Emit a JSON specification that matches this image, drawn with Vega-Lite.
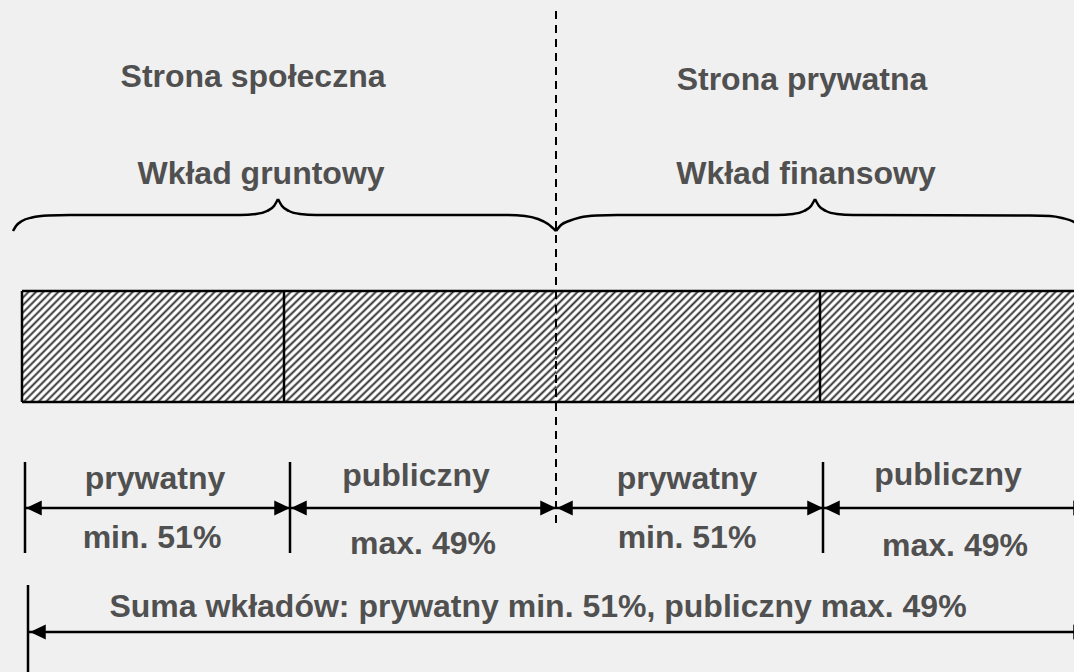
{
 "$schema": "https://vega.github.io/schema/vega-lite/v6.json",
 "width": 1074, "height": 672, "autosize": {"type": "none"}, "padding": 0,
 "background": "#f0f0f0",
 "config": {"view": {"stroke": null}},
 "datasets": {
  "rects": [{"a": 22, "b": 284, "top": 291, "bottom": 402}, {"a": 284, "b": 556, "top": 291, "bottom": 402}, {"a": 556, "b": 820, "top": 291, "bottom": 402}, {"a": 820, "b": 1080, "top": 291, "bottom": 402}],
  "rules": [
   {"x1": 22, "y1": 291, "x2": 1080, "y2": 291},
   {"x1": 22, "y1": 402, "x2": 1080, "y2": 402},
   {"x1": 22, "y1": 291, "x2": 22, "y2": 402},
   {"x1": 284, "y1": 291, "x2": 284, "y2": 402},
   {"x1": 820, "y1": 291, "x2": 820, "y2": 402},
   {"x1": 25, "y1": 462, "x2": 25, "y2": 553},
   {"x1": 290, "y1": 462, "x2": 290, "y2": 553},
   {"x1": 823, "y1": 462, "x2": 823, "y2": 553},
   {"x1": 25, "y1": 508, "x2": 1080, "y2": 508},
   {"x1": 28, "y1": 585, "x2": 28, "y2": 672},
   {"x1": 28, "y1": 632, "x2": 1080, "y2": 632}
  ],
  "dash": [{"x1": 556, "y1": 11, "x2": 556, "y2": 523}],
  "brace": [
   {"seg": "A", "x": 13, "y": 231}, {"seg": "A", "x": 16, "y": 226}, {"seg": "A", "x": 22, "y": 221}, {"seg": "A", "x": 32, "y": 217.5}, {"seg": "A", "x": 48, "y": 215.5}, {"seg": "A", "x": 70, "y": 215}, {"seg": "A", "x": 240, "y": 215}, {"seg": "A", "x": 256, "y": 214}, {"seg": "A", "x": 267, "y": 211}, {"seg": "A", "x": 274, "y": 206}, {"seg": "A", "x": 278, "y": 199},
   {"seg": "B", "x": 278, "y": 199}, {"seg": "B", "x": 282, "y": 206}, {"seg": "B", "x": 289, "y": 211}, {"seg": "B", "x": 300, "y": 214}, {"seg": "B", "x": 316, "y": 215}, {"seg": "B", "x": 505, "y": 215}, {"seg": "B", "x": 525, "y": 216}, {"seg": "B", "x": 538, "y": 219}, {"seg": "B", "x": 548, "y": 224}, {"seg": "B", "x": 556, "y": 231},
   {"seg": "C", "x": 556, "y": 231}, {"seg": "C", "x": 561, "y": 225}, {"seg": "C", "x": 569, "y": 221}, {"seg": "C", "x": 580, "y": 217.5}, {"seg": "C", "x": 597, "y": 215.5}, {"seg": "C", "x": 617, "y": 215}, {"seg": "C", "x": 777, "y": 215}, {"seg": "C", "x": 793, "y": 214}, {"seg": "C", "x": 804, "y": 211}, {"seg": "C", "x": 811, "y": 206}, {"seg": "C", "x": 815, "y": 199},
   {"seg": "D", "x": 815, "y": 199}, {"seg": "D", "x": 819, "y": 206}, {"seg": "D", "x": 826, "y": 211}, {"seg": "D", "x": 837, "y": 214}, {"seg": "D", "x": 853, "y": 215}, {"seg": "D", "x": 1030, "y": 215.5}, {"seg": "D", "x": 1050, "y": 216}, {"seg": "D", "x": 1062, "y": 218}, {"seg": "D", "x": 1074, "y": 222}, {"seg": "D", "x": 1082, "y": 231}
  ],
  "arrowsR": [{"x": 290, "y": 508}, {"x": 556, "y": 508}, {"x": 823, "y": 508}, {"x": 1089, "y": 508}, {"x": 1089, "y": 632}],
  "arrowsL": [{"x": 26, "y": 508}, {"x": 291, "y": 508}, {"x": 557, "y": 508}, {"x": 824, "y": 508}, {"x": 30, "y": 632}],
  "texts": [
   {"x": 253, "y": 87, "t": "Strona społeczna"},
   {"x": 802, "y": 90, "t": "Strona prywatna"},
   {"x": 261, "y": 184, "t": "Wkład gruntowy"},
   {"x": 806, "y": 184, "t": "Wkład finansowy"},
   {"x": 155, "y": 489, "t": "prywatny"},
   {"x": 152, "y": 548, "t": "min. 51%"},
   {"x": 416, "y": 486, "t": "publiczny"},
   {"x": 423, "y": 554, "t": "max. 49%"},
   {"x": 687, "y": 489, "t": "prywatny"},
   {"x": 687, "y": 548, "t": "min. 51%"},
   {"x": 948, "y": 485, "t": "publiczny"},
   {"x": 955, "y": 556, "t": "max. 49%"},
   {"x": 538, "y": 617, "t": "Suma wkładów: prywatny min. 51%, publiczny max. 49%"}
  ]
 },
 "layer": [
  {
   "data": {"name": "rects"},
   "mark": {"type": "rect", "stroke": null, "fill": {"gradient": "linear", "x1": 0, "y1": 0, "x2": 1.207, "y2": 0.5075, "stops": [
    {"offset": 0, "color": "#2a2a2a"}, {"offset": 0.007, "color": "#fff"}, {"offset": 0.013, "color": "#fff"},
    {"offset": 0.02, "color": "#2a2a2a"}, {"offset": 0.027, "color": "#fff"}, {"offset": 0.033, "color": "#fff"},
    {"offset": 0.04, "color": "#2a2a2a"}, {"offset": 0.047, "color": "#fff"}, {"offset": 0.053, "color": "#fff"},
    {"offset": 0.06, "color": "#2a2a2a"}, {"offset": 0.067, "color": "#fff"}, {"offset": 0.073, "color": "#fff"},
    {"offset": 0.08, "color": "#2a2a2a"}, {"offset": 0.087, "color": "#fff"}, {"offset": 0.093, "color": "#fff"},
    {"offset": 0.1, "color": "#2a2a2a"}, {"offset": 0.107, "color": "#fff"}, {"offset": 0.113, "color": "#fff"},
    {"offset": 0.12, "color": "#2a2a2a"}, {"offset": 0.127, "color": "#fff"}, {"offset": 0.133, "color": "#fff"},
    {"offset": 0.14, "color": "#2a2a2a"}, {"offset": 0.147, "color": "#fff"}, {"offset": 0.153, "color": "#fff"},
    {"offset": 0.16, "color": "#2a2a2a"}, {"offset": 0.167, "color": "#fff"}, {"offset": 0.173, "color": "#fff"},
    {"offset": 0.18, "color": "#2a2a2a"}, {"offset": 0.187, "color": "#fff"}, {"offset": 0.193, "color": "#fff"},
    {"offset": 0.2, "color": "#2a2a2a"}, {"offset": 0.207, "color": "#fff"}, {"offset": 0.213, "color": "#fff"},
    {"offset": 0.22, "color": "#2a2a2a"}, {"offset": 0.227, "color": "#fff"}, {"offset": 0.233, "color": "#fff"},
    {"offset": 0.24, "color": "#2a2a2a"}, {"offset": 0.247, "color": "#fff"}, {"offset": 0.253, "color": "#fff"},
    {"offset": 0.26, "color": "#2a2a2a"}, {"offset": 0.267, "color": "#fff"}, {"offset": 0.273, "color": "#fff"},
    {"offset": 0.28, "color": "#2a2a2a"}, {"offset": 0.287, "color": "#fff"}, {"offset": 0.293, "color": "#fff"},
    {"offset": 0.3, "color": "#2a2a2a"}, {"offset": 0.307, "color": "#fff"}, {"offset": 0.313, "color": "#fff"},
    {"offset": 0.32, "color": "#2a2a2a"}, {"offset": 0.327, "color": "#fff"}, {"offset": 0.333, "color": "#fff"},
    {"offset": 0.34, "color": "#2a2a2a"}, {"offset": 0.347, "color": "#fff"}, {"offset": 0.353, "color": "#fff"},
    {"offset": 0.36, "color": "#2a2a2a"}, {"offset": 0.367, "color": "#fff"}, {"offset": 0.373, "color": "#fff"},
    {"offset": 0.38, "color": "#2a2a2a"}, {"offset": 0.387, "color": "#fff"}, {"offset": 0.393, "color": "#fff"},
    {"offset": 0.4, "color": "#2a2a2a"}, {"offset": 0.407, "color": "#fff"}, {"offset": 0.413, "color": "#fff"},
    {"offset": 0.42, "color": "#2a2a2a"}, {"offset": 0.427, "color": "#fff"}, {"offset": 0.433, "color": "#fff"},
    {"offset": 0.44, "color": "#2a2a2a"}, {"offset": 0.447, "color": "#fff"}, {"offset": 0.453, "color": "#fff"},
    {"offset": 0.46, "color": "#2a2a2a"}, {"offset": 0.467, "color": "#fff"}, {"offset": 0.473, "color": "#fff"},
    {"offset": 0.48, "color": "#2a2a2a"}, {"offset": 0.487, "color": "#fff"}, {"offset": 0.493, "color": "#fff"},
    {"offset": 0.5, "color": "#2a2a2a"}, {"offset": 0.507, "color": "#fff"}, {"offset": 0.513, "color": "#fff"},
    {"offset": 0.52, "color": "#2a2a2a"}, {"offset": 0.527, "color": "#fff"}, {"offset": 0.533, "color": "#fff"},
    {"offset": 0.54, "color": "#2a2a2a"}, {"offset": 0.547, "color": "#fff"}, {"offset": 0.553, "color": "#fff"},
    {"offset": 0.56, "color": "#2a2a2a"}, {"offset": 0.567, "color": "#fff"}, {"offset": 0.573, "color": "#fff"},
    {"offset": 0.58, "color": "#2a2a2a"}, {"offset": 0.587, "color": "#fff"}, {"offset": 0.593, "color": "#fff"},
    {"offset": 0.6, "color": "#2a2a2a"}, {"offset": 0.607, "color": "#fff"}, {"offset": 0.613, "color": "#fff"},
    {"offset": 0.62, "color": "#2a2a2a"}, {"offset": 0.627, "color": "#fff"}, {"offset": 0.633, "color": "#fff"},
    {"offset": 0.64, "color": "#2a2a2a"}, {"offset": 0.647, "color": "#fff"}, {"offset": 0.653, "color": "#fff"},
    {"offset": 0.66, "color": "#2a2a2a"}, {"offset": 0.667, "color": "#fff"}, {"offset": 0.673, "color": "#fff"},
    {"offset": 0.68, "color": "#2a2a2a"}, {"offset": 0.687, "color": "#fff"}, {"offset": 0.693, "color": "#fff"},
    {"offset": 0.7, "color": "#2a2a2a"}, {"offset": 0.707, "color": "#fff"}, {"offset": 0.713, "color": "#fff"},
    {"offset": 0.72, "color": "#2a2a2a"}, {"offset": 0.727, "color": "#fff"}, {"offset": 0.733, "color": "#fff"},
    {"offset": 0.74, "color": "#2a2a2a"}, {"offset": 0.747, "color": "#fff"}, {"offset": 0.753, "color": "#fff"},
    {"offset": 0.76, "color": "#2a2a2a"}, {"offset": 0.767, "color": "#fff"}, {"offset": 0.773, "color": "#fff"},
    {"offset": 0.78, "color": "#2a2a2a"}, {"offset": 0.787, "color": "#fff"}, {"offset": 0.793, "color": "#fff"},
    {"offset": 0.8, "color": "#2a2a2a"}, {"offset": 0.807, "color": "#fff"}, {"offset": 0.813, "color": "#fff"},
    {"offset": 0.82, "color": "#2a2a2a"}, {"offset": 0.827, "color": "#fff"}, {"offset": 0.833, "color": "#fff"},
    {"offset": 0.84, "color": "#2a2a2a"}, {"offset": 0.847, "color": "#fff"}, {"offset": 0.853, "color": "#fff"},
    {"offset": 0.86, "color": "#2a2a2a"}, {"offset": 0.867, "color": "#fff"}, {"offset": 0.873, "color": "#fff"},
    {"offset": 0.88, "color": "#2a2a2a"}, {"offset": 0.887, "color": "#fff"}, {"offset": 0.893, "color": "#fff"},
    {"offset": 0.9, "color": "#2a2a2a"}, {"offset": 0.907, "color": "#fff"}, {"offset": 0.913, "color": "#fff"},
    {"offset": 0.92, "color": "#2a2a2a"}, {"offset": 0.927, "color": "#fff"}, {"offset": 0.933, "color": "#fff"},
    {"offset": 0.94, "color": "#2a2a2a"}, {"offset": 0.947, "color": "#fff"}, {"offset": 0.953, "color": "#fff"},
    {"offset": 0.96, "color": "#2a2a2a"}, {"offset": 0.967, "color": "#fff"}, {"offset": 0.973, "color": "#fff"},
    {"offset": 0.98, "color": "#2a2a2a"}, {"offset": 0.987, "color": "#fff"}, {"offset": 0.993, "color": "#fff"},
    {"offset": 1, "color": "#2a2a2a"}
   ]}},
   "encoding": {
    "x": {"field": "a", "type": "quantitative", "scale": {"domain": [0, 1074], "nice": false, "zero": false}, "axis": null},
    "x2": {"field": "b"},
    "y": {"field": "top", "type": "quantitative", "scale": {"domain": [0, 672], "reverse": true, "nice": false, "zero": false}, "axis": null},
    "y2": {"field": "bottom"}
   }
  },
  {
   "data": {"name": "rules"},
   "mark": {"type": "rule", "color": "#000", "strokeWidth": 2.5},
   "encoding": {
    "x": {"field": "x1", "type": "quantitative", "scale": {"domain": [0, 1074], "nice": false, "zero": false}, "axis": null},
    "x2": {"field": "x2"},
    "y": {"field": "y1", "type": "quantitative", "scale": {"domain": [0, 672], "reverse": true, "nice": false, "zero": false}, "axis": null},
    "y2": {"field": "y2"}
   }
  },
  {
   "data": {"name": "dash"},
   "mark": {"type": "rule", "color": "#000", "strokeWidth": 2, "strokeDash": [8, 6]},
   "encoding": {
    "x": {"field": "x1", "type": "quantitative", "scale": {"domain": [0, 1074], "nice": false, "zero": false}, "axis": null},
    "x2": {"field": "x2"},
    "y": {"field": "y1", "type": "quantitative", "scale": {"domain": [0, 672], "reverse": true, "nice": false, "zero": false}, "axis": null},
    "y2": {"field": "y2"}
   }
  },
  {
   "data": {"name": "brace"},
   "mark": {"type": "line", "color": "#000", "strokeWidth": 2.5, "interpolate": "monotone"},
   "encoding": {
    "x": {"field": "x", "type": "quantitative", "scale": {"domain": [0, 1074], "nice": false, "zero": false}, "axis": null},
    "y": {"field": "y", "type": "quantitative", "scale": {"domain": [0, 672], "reverse": true, "nice": false, "zero": false}, "axis": null},
    "detail": {"field": "seg", "type": "nominal"}
   }
  },
  {
   "data": {"name": "arrowsR"},
   "mark": {"type": "point", "shape": "M0,0L-2.1,-1L-2.1,1Z", "size": 225, "filled": true, "color": "#000", "opacity": 1, "strokeWidth": 0},
   "encoding": {
    "x": {"field": "x", "type": "quantitative", "scale": {"domain": [0, 1074], "nice": false, "zero": false}, "axis": null},
    "y": {"field": "y", "type": "quantitative", "scale": {"domain": [0, 672], "reverse": true, "nice": false, "zero": false}, "axis": null}
   }
  },
  {
   "data": {"name": "arrowsL"},
   "mark": {"type": "point", "shape": "M0,0L2.1,-1L2.1,1Z", "size": 225, "filled": true, "color": "#000", "opacity": 1, "strokeWidth": 0},
   "encoding": {
    "x": {"field": "x", "type": "quantitative", "scale": {"domain": [0, 1074], "nice": false, "zero": false}, "axis": null},
    "y": {"field": "y", "type": "quantitative", "scale": {"domain": [0, 672], "reverse": true, "nice": false, "zero": false}, "axis": null}
   }
  },
  {
   "data": {"name": "texts"},
   "mark": {"type": "text", "align": "center", "baseline": "alphabetic", "font": "Liberation Sans", "fontWeight": "bold", "fontSize": 32, "color": "#505050"},
   "encoding": {
    "x": {"field": "x", "type": "quantitative", "scale": {"domain": [0, 1074], "nice": false, "zero": false}, "axis": null},
    "y": {"field": "y", "type": "quantitative", "scale": {"domain": [0, 672], "reverse": true, "nice": false, "zero": false}, "axis": null},
    "text": {"field": "t", "type": "nominal"}
   }
  }
 ]
}
